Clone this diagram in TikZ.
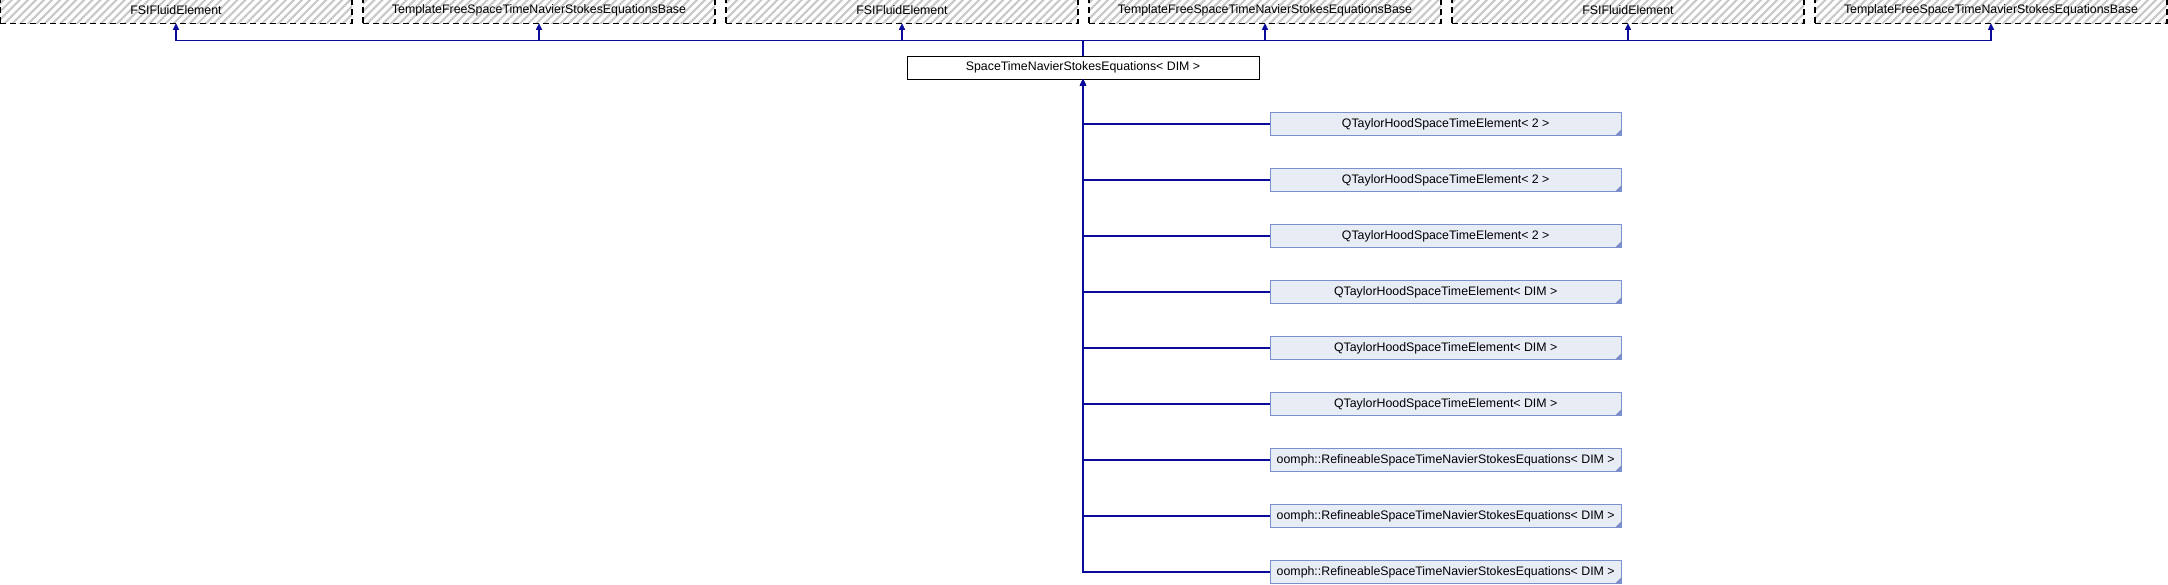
\documentclass[tikz,border=0pt]{standalone}
\usepackage{fontspec}
\setmainfont{Liberation Sans}
\usetikzlibrary{patterns.meta,arrows.meta}
\definecolor{edgecol}{RGB}{10,10,155}
\definecolor{dfill}{RGB}{232,236,245}
\definecolor{dborder}{RGB}{122,144,204}
\definecolor{hatch}{RGB}{200,200,200}
\tikzset{
  x=1pt,y=1pt,
  every node/.style={font=\fontsize{12.35pt}{14pt}\selectfont, inner sep=0pt, outer sep=0pt},
  topbox/.style={draw=black, line width=1.1pt, dash pattern=on 6pt off 4pt,
    pattern={Lines[angle=45,distance=5.7pt,line width=2.1pt]}, pattern color=hatch,
    minimum width=352pt, minimum height=26pt},
  midbox/.style={draw=black, line width=1pt, fill=white, minimum width=352pt, minimum height=23pt},
  derbox/.style={draw=dborder, line width=1.1pt, fill=dfill, minimum width=351pt, minimum height=23pt},
  edge/.style={draw=edgecol, line width=1.1pt},
  arr/.style={edge, -{Triangle[length=6.5pt,width=6pt]}},
  corner/.style={fill=dborder}
}
\begin{document}
\begin{tikzpicture}
\useasboundingbox (0,0) rectangle (2168,-584);
% top base classes
\node[topbox] (b1) at (176,-10.3) {FSIFluidElement};
\node[topbox] (b2) at (539,-10.3) {TemplateFreeSpaceTimeNavierStokesEquationsBase};
\node[topbox] (b3) at (902,-10.3) {FSIFluidElement};
\node[topbox] (b4) at (1265,-10.3) {TemplateFreeSpaceTimeNavierStokesEquationsBase};
\node[topbox] (b5) at (1628,-10.3) {FSIFluidElement};
\node[topbox] (b6) at (1991,-10.3) {TemplateFreeSpaceTimeNavierStokesEquationsBase};
% central class
\node[midbox] (c) at (1083,-67.7) {SpaceTimeNavierStokesEquations< DIM >};
\coordinate (j) at (1083,-40.3);
\draw[edge] (c.north) -- (j);
\foreach \b in {b1,b2,b3,b4,b5,b6} { \draw[arr] (j) -| (\b.south); }
% derived classes
\node[derbox] (d1) at (1445.7,-124) {QTaylorHoodSpaceTimeElement< 2 >};
\node[derbox] (d2) at (1445.7,-180) {QTaylorHoodSpaceTimeElement< 2 >};
\node[derbox] (d3) at (1445.7,-236) {QTaylorHoodSpaceTimeElement< 2 >};
\node[derbox] (d4) at (1445.7,-292) {QTaylorHoodSpaceTimeElement< DIM >};
\node[derbox] (d5) at (1445.7,-348) {QTaylorHoodSpaceTimeElement< DIM >};
\node[derbox] (d6) at (1445.7,-404) {QTaylorHoodSpaceTimeElement< DIM >};
\node[derbox] (d7) at (1445.7,-460) {oomph::RefineableSpaceTimeNavierStokesEquations< DIM >};
\node[derbox] (d8) at (1445.7,-516) {oomph::RefineableSpaceTimeNavierStokesEquations< DIM >};
\node[derbox] (d9) at (1445.7,-572) {oomph::RefineableSpaceTimeNavierStokesEquations< DIM >};
\foreach \d in {d1,d2,d3,d4,d5,d6,d7,d8,d9} {
  \fill[corner] (\d.south east) -- ++(-6,0) -- ++(6,6) -- cycle;
  \draw[arr] (\d.west) -| (c.south);
}
\end{tikzpicture}
\end{document}
